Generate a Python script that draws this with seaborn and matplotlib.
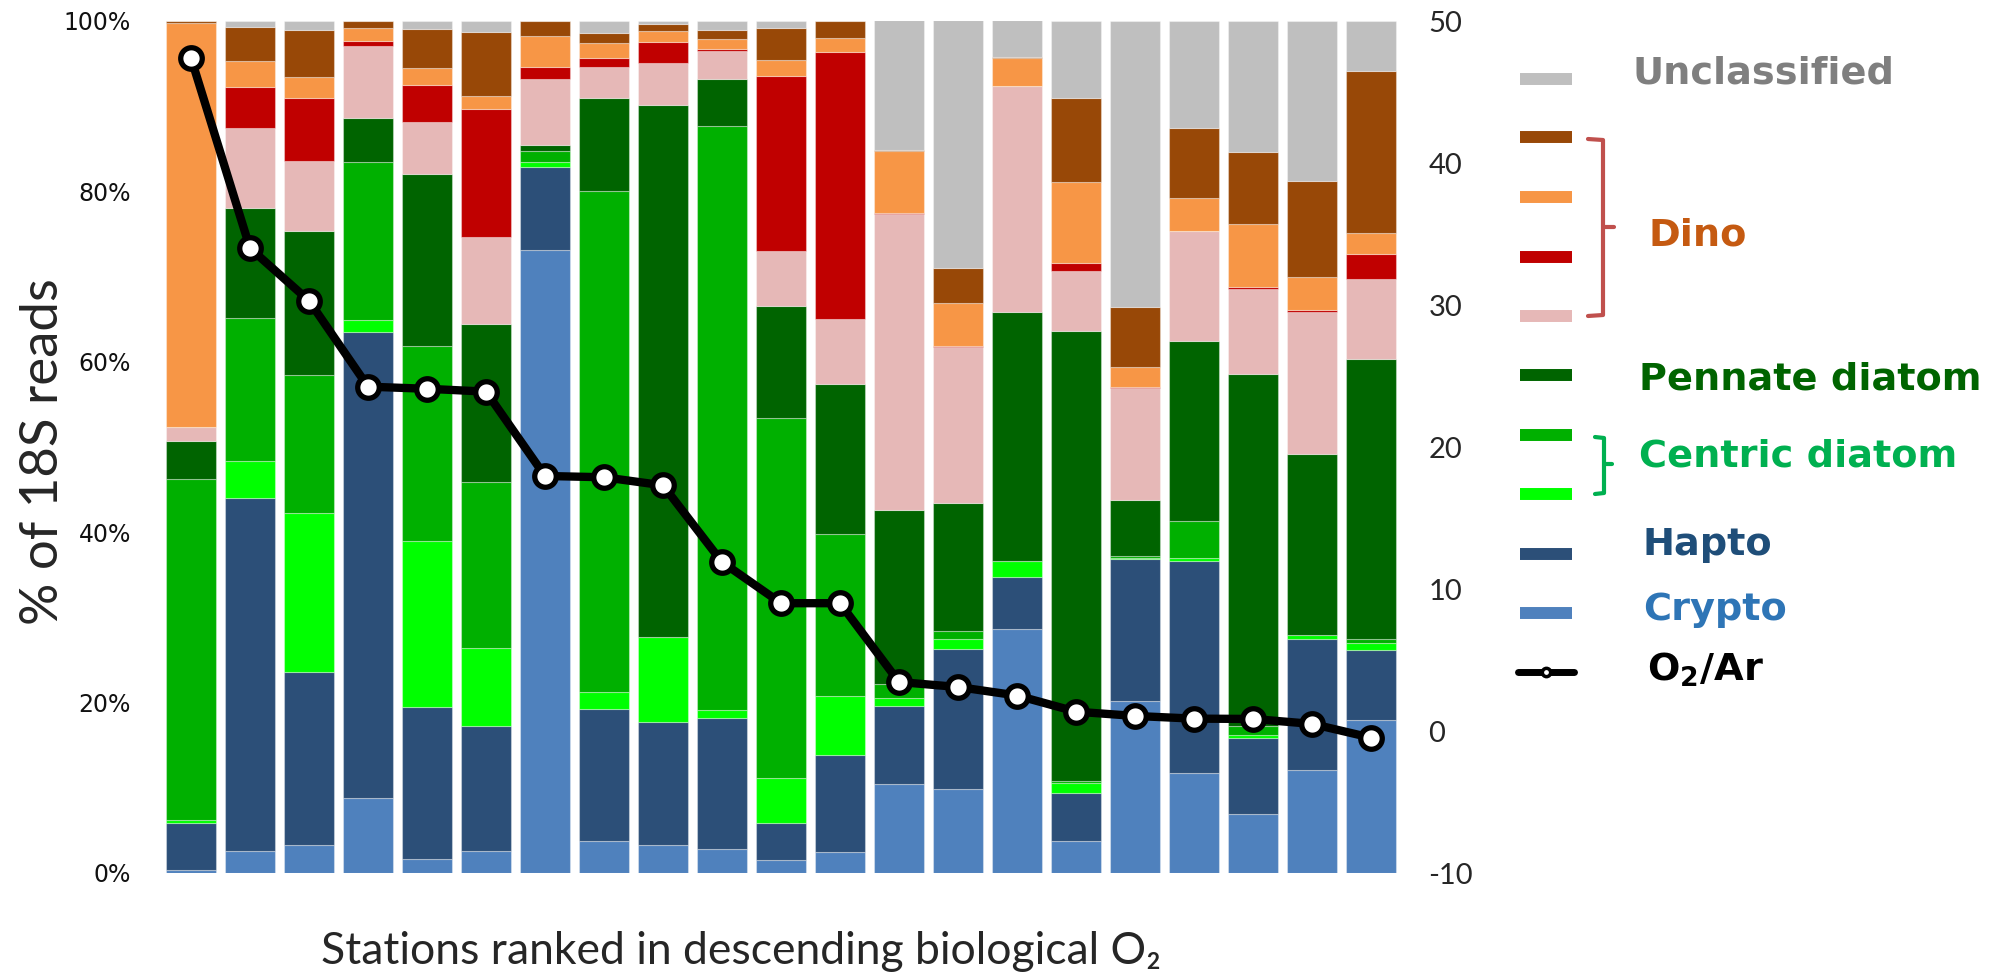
import numpy as np
import pandas as pd
import matplotlib
matplotlib.use("Agg")
import matplotlib.pyplot as plt
from matplotlib.lines import Line2D
from matplotlib.ticker import FixedLocator, FuncFormatter
import seaborn as sns

# Stations ranked by biological O2 (1 = highest)
stations = [str(i) for i in range(1, 22)]

# Relative read abundance (% of 18S reads) per group, bottom to top of each stack
crypto = [0.35, 2.6, 3.25, 8.8, 1.65, 2.6, 73.1, 3.75, 3.3, 2.8, 1.5,
          2.5, 10.4, 9.9, 28.6, 3.75, 20.2, 11.7, 6.9, 12.1, 17.9]
hapto = [5.55, 41.45, 20.35, 54.7, 17.85, 14.7, 9.8, 15.45, 14.4, 15.4, 4.4,
         11.4, 9.2, 16.4, 6.2, 5.65, 16.6, 24.95, 9.0, 15.4, 8.3]
centric_b = [0.3, 4.35, 18.65, 1.4, 19.5, 9.1, 0.5, 2.1, 10.0, 0.9, 5.25,
             6.9, 0.9, 1.2, 1.8, 1.2, 0.2, 0.35, 0.3, 0.4, 0.8]
centric_a = [40.0, 16.7, 16.2, 18.5, 22.9, 19.5, 1.3, 58.7, 0.0, 68.6, 42.25,
             19.0, 1.7, 0.9, 0.0, 0.2, 0.2, 4.3, 1.0, 0.0, 0.5]
pennate = [4.5, 13.0, 16.95, 5.2, 20.2, 18.5, 0.7, 11.0, 62.4, 5.5, 13.1,
           17.6, 20.4, 15.0, 29.2, 52.8, 6.6, 21.2, 41.4, 21.3, 32.8]
dino_d = [1.6, 9.3, 8.2, 8.5, 6.1, 10.2, 7.8, 3.6, 5.0, 3.3, 6.5,
          7.6, 34.8, 18.3, 26.6, 7.0, 13.1, 12.8, 10.0, 16.7, 9.4]
dino_c = [0.1, 4.8, 7.4, 0.55, 4.3, 15.1, 1.4, 1.0, 2.4, 0.2, 20.5,
          31.4, 0.1, 0.1, 0.0, 1.0, 0.1, 0.1, 0.2, 0.2, 3.0]
dino_b = [47.4, 3.1, 2.4, 1.55, 2.0, 1.5, 3.6, 1.8, 1.3, 1.2, 1.9,
          1.6, 7.2, 5.1, 3.3, 9.5, 2.4, 3.8, 7.4, 3.9, 2.4]
dino_a = [0.2, 4.0, 5.5, 0.85, 4.6, 7.5, 1.8, 1.2, 0.8, 1.0, 3.8,
          2.0, 0.2, 4.1, 0.1, 9.9, 7.0, 8.3, 8.4, 11.2, 19.0]
unclassified = [0.0, 0.7, 1.1, 0.0, 0.9, 1.3, 0.0, 1.4, 0.4, 1.1, 0.8,
                0.0, 15.2, 29.1, 4.3, 9.0, 33.6, 12.5, 15.4, 18.8, 5.9]

# O2/Ar biological oxygen saturation anomaly per station
o2_ar = [47.4, 34.0, 30.3, 24.25, 24.1, 23.9, 17.96, 17.87, 17.3, 11.9, 9.0,
         9.0, 3.45, 3.1, 2.5, 1.36, 1.06, 0.87, 0.85, 0.5, -0.47]

pct_ticks = [0, 20, 40, 60, 80, 100]
o2_ticks = [-10, 0, 10, 20, 30, 40, 50]

layers = [
    ("Crypto", crypto, "#4F81BD"),
    ("Hapto", hapto, "#2C4F78"),
    ("Centric diatom b", centric_b, "#00FF00"),
    ("Centric diatom a", centric_a, "#00B000"),
    ("Pennate diatom", pennate, "#006400"),
    ("Dino d", dino_d, "#E6B8B7"),
    ("Dino c", dino_c, "#C00000"),
    ("Dino b", dino_b, "#F79646"),
    ("Dino a", dino_a, "#984807"),
    ("Unclassified", unclassified, "#BFBFBF"),
]

sns.set_style("white")
plt.rcParams["font.family"] = ["DejaVu Sans"]
plt.rcParams["axes.unicode_minus"] = False
plt.rcParams["mathtext.fontset"] = "dejavusans"

W, H = 1998, 974
fig = plt.figure(figsize=(W / 100, H / 100), dpi=100)
ax = fig.add_axes([161.5 / W, 101 / H, 1239 / W, 852 / H])

# Stacked bars
base = np.zeros(len(stations))
for name, vals, col in layers:
    df = pd.DataFrame({"station": stations, "pct": vals})
    sns.barplot(data=df, x="station", y="pct", color=col, saturation=1,
                width=0.85, bottom=base.copy(), ax=ax, errorbar=None,
                edgecolor=(1, 1, 1, 0.35), linewidth=0.8)
    base = base + np.asarray(vals)

ax.set_xlim(-0.5, len(stations) - 0.5)
ax.set_ylim(0, 100)
ax.yaxis.set_major_locator(FixedLocator(pct_ticks))
ax.yaxis.set_major_formatter(FuncFormatter(lambda v, p: f"{v:.0f}%"))
ax.tick_params(axis="y", length=0, pad=22, labelsize=17, labelcolor="#111111")
ax.tick_params(axis="x", length=0, labelbottom=False)
for s in ax.spines.values():
    s.set_visible(False)

ax.set_ylabel("% of 18S reads", family=["Lato", "DejaVu Sans"], fontsize=38)
ax.yaxis.label.set_va("center")
ax.yaxis.set_label_coords(-0.0956, 0.495)
ax.set_xlabel("Stations ranked in descending biological O\u2082",
              family=["Lato", "DejaVu Sans"], fontsize=32)
ax.xaxis.label.set_va("baseline")
ax.xaxis.set_label_coords(0.468, -0.1068)

# O2/Ar line on the secondary axis
ax2 = ax.twinx()
sns.lineplot(x=np.arange(len(stations)), y=o2_ar, ax=ax2, color="black",
             linewidth=6, marker="o", markersize=15.5, markerfacecolor="white",
             markeredgecolor="black", markeredgewidth=3.8, legend=False)
ax2.set_xlim(-0.5, len(stations) - 0.5)
ax2.set_ylim(-10, 50)
ax2.yaxis.set_major_locator(FixedLocator(o2_ticks))
ax2.tick_params(axis="y", length=0, pad=20, labelsize=21)
for lab in ax2.get_yticklabels():
    lab.set_family(["Lato", "DejaVu Sans"])
ax2.set_ylabel("")
for s in ax2.spines.values():
    s.set_visible(False)


def fx(px):
    return px / W


def fy(py):
    return 1 - py / H


# Legend keys
key_rows = [
    (79, "#BFBFBF"), (137, "#984807"), (197, "#F79646"), (257, "#C00000"),
    (316, "#E6B8B7"), (375, "#006400"), (435, "#00B000"), (494, "#00FF00"),
    (554, "#2C4F78"), (613, "#4F81BD"),
]
for ypx, col in key_rows:
    fig.add_artist(Line2D([fx(1520), fx(1572)], [fy(ypx), fy(ypx)],
                          color=col, linewidth=8.6, solid_capstyle="butt"))
fig.add_artist(Line2D([fx(1518), fx(1574)], [fy(672), fy(672)], color="black",
                      linewidth=5, solid_capstyle="round"))
fig.add_artist(Line2D([fx(1546)], [fy(672)], marker="o", markersize=6,
                      markerfacecolor="white", markeredgecolor="black",
                      markeredgewidth=2.5, linestyle="none"))

# Group brackets
dino_br = "#C0504D"
fig.add_artist(Line2D([fx(1588), fx(1603), fx(1603), fx(1588)],
                      [fy(139), fy(140), fy(315), fy(316)],
                      color=dino_br, linewidth=3, solid_joinstyle="round"))
fig.add_artist(Line2D([fx(1603), fx(1614)], [fy(227), fy(227)],
                      color=dino_br, linewidth=3))
cen_br = "#00B050"
fig.add_artist(Line2D([fx(1595), fx(1604), fx(1604), fx(1595)],
                      [fy(437), fy(438), fy(493), fy(494)],
                      color=cen_br, linewidth=3, solid_joinstyle="round"))
fig.add_artist(Line2D([fx(1604), fx(1612)], [fy(464), fy(464)],
                      color=cen_br, linewidth=3))

# Legend labels
labels = [
    (1633, 74, "Unclassified", "#7F7F7F"),
    (1648, 236, "Dino", "#C55A11"),
    (1639, 379, "Pennate diatom", "#006400"),
    (1639, 457, "Centric diatom", "#00B050"),
    (1643, 545, "Hapto", "#1F4E79"),
    (1643, 610, "Crypto", "#2E75B6"),
    (1647, 670, r"O$_\mathbf{2}$/Ar", "black"),
]
for xpx, ypx, txt, col in labels:
    fig.text(fx(xpx), fy(ypx), txt, color=col, fontsize=27.5,
             fontweight="bold", ha="left", va="center")

fig.savefig("out.png", dpi=100)
